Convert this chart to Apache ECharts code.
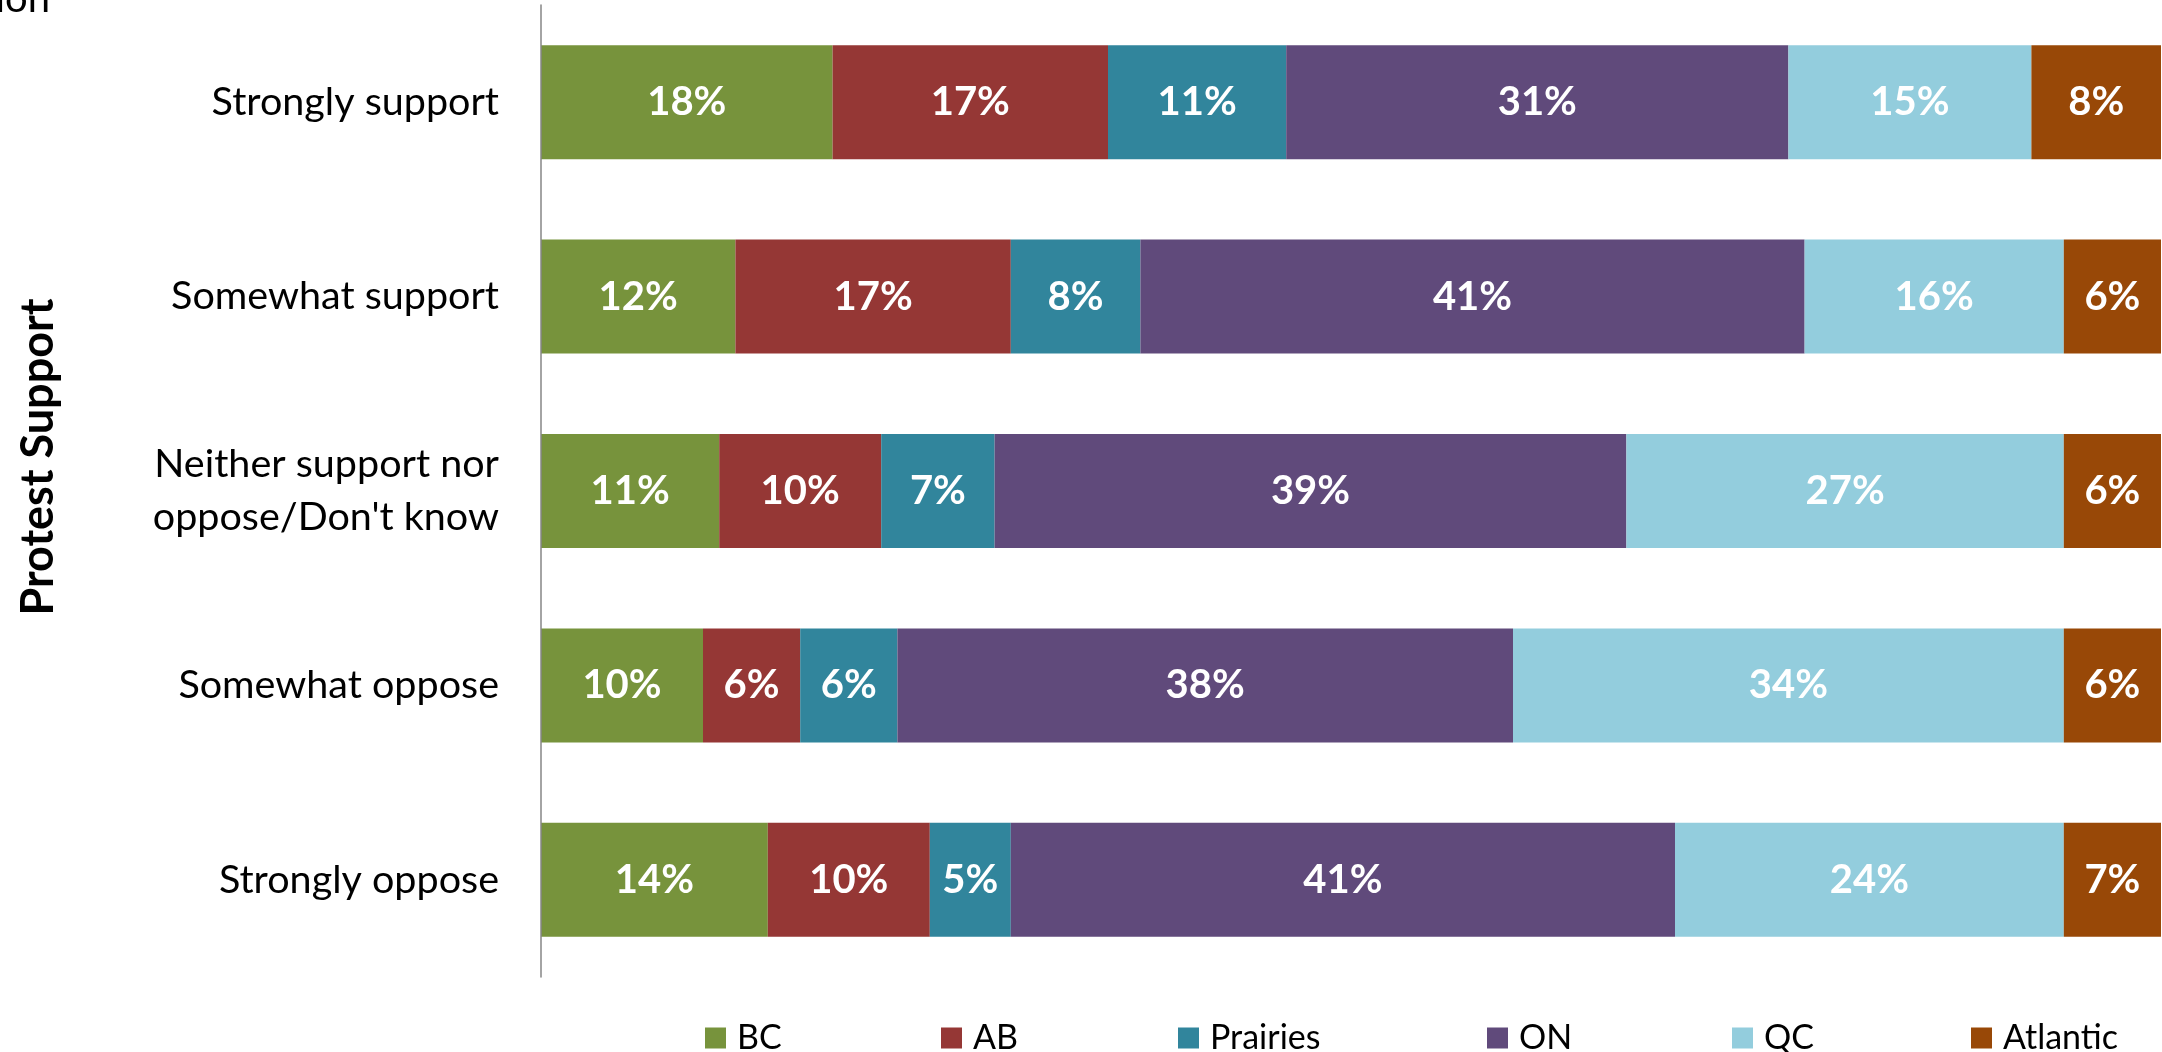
<!DOCTYPE html>
<html>
<head>
<meta charset="utf-8">
<title>Protest Support by Region</title>
<script src="https://cdn.jsdelivr.net/npm/echarts@6/dist/echarts.min.js"></script>
<style>
  html, body { margin: 0; padding: 0; background: #ffffff; }
  #chart { width: 2162px; height: 1052px; }
</style>
</head>
<body>
<div id="chart"></div>
<script>
// Response categories (top to bottom)
const categories = [
  'Strongly support',
  'Somewhat support',
  'Neither support nor\noppose/Don\'t know',
  'Somewhat oppose',
  'Strongly oppose'
];

// Regions, in stacking order
const regions = ['BC', 'AB', 'Prairies', 'ON', 'QC', 'Atlantic'];

// Share of each response group coming from each region (%)
const bcValues       = [18, 12, 11, 10, 14];
const abValues       = [17, 17, 10,  6, 10];
const prairiesValues = [11,  8,  7,  6,  5];
const onValues       = [31, 41, 39, 38, 41];
const qcValues       = [15, 16, 27, 34, 24];
const atlanticValues = [ 8,  6,  6,  6,  7];

const regionValues = [bcValues, abValues, prairiesValues, onValues, qcValues, atlanticValues];

// Styling
const regionColors = ['#77933C', '#953735', '#31859C', '#604A7B', '#93CDDD', '#984807'];
const legendLeft = [705, 941, 1178, 1487, 1732, 1971];
const FONT = 'Lato, "Open Sans", sans-serif';

const chart = echarts.init(document.getElementById('chart'), null, { renderer: 'canvas' });

const series = regions.map((name, i) => ({
  name: name,
  type: 'bar',
  stack: 'total',
  barWidth: 114,
  data: regionValues[i],
  itemStyle: { color: regionColors[i] },
  label: {
    show: true,
    position: 'inside',
    formatter: '{c}%',
    color: '#ffffff',
    fontFamily: FONT,
    fontWeight: 'bold',
    fontSize: 40
  },
  emphasis: { disabled: true }
}));

const legends = regions.map((name, i) => ({
  data: [name],
  left: legendLeft[i],
  top: 1021,
  orient: 'horizontal',
  icon: 'rect',
  itemWidth: 21,
  itemHeight: 21,
  selectedMode: false,
  padding: 0,
  textStyle: {
    fontFamily: FONT,
    fontSize: 34,
    color: '#000000',
    lineHeight: 34,
    padding: [0, 0, 0, 6]
  }
}));

chart.setOption({
  animation: false,
  backgroundColor: '#ffffff',
  grid: { left: 541, right: 1, top: 5, bottom: 75, containLabel: false },
  xAxis: {
    type: 'value',
    min: 0,
    max: 100,
    show: false
  },
  yAxis: {
    type: 'category',
    data: categories,
    inverse: true,
    z: 5,
    axisLine: { show: true, lineStyle: { color: '#868686', width: 1.5 } },
    axisTick: { show: false },
    splitLine: { show: false },
    axisLabel: {
      margin: 42,
      color: '#000000',
      fontFamily: FONT,
      fontSize: 39.5,
      lineHeight: 53
    }
  },
  legend: legends,
  graphic: [
    {
      type: 'text',
      rotation: Math.PI / 2,
      x: 38,
      y: 457,
      style: {
        text: 'Protest Support',
        fontFamily: FONT,
        fontWeight: 'bold',
        fontSize: 45,
        fill: '#000000',
        textAlign: 'center',
        textVerticalAlign: 'middle'
      }
    },
    {
      type: 'text',
      x: 50,
      y: -1,
      style: {
        text: 'Region',
        fontFamily: FONT,
        fontSize: 40,
        fill: '#000000',
        textAlign: 'right',
        textVerticalAlign: 'middle'
      }
    }
  ],
  series: series
});
</script>
</body>
</html>
